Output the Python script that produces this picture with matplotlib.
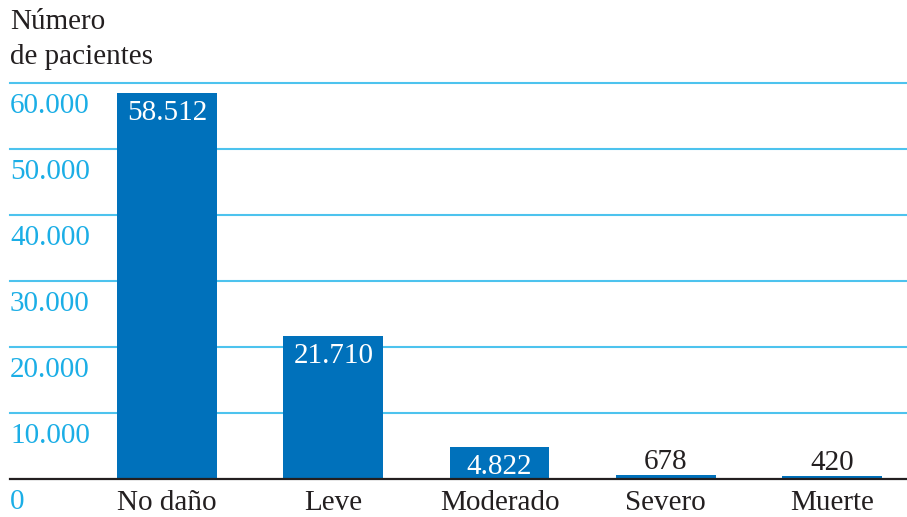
import matplotlib.pyplot as plt
import matplotlib.transforms as mtransforms

categorias = ['No daño', 'Leve', 'Moderado', 'Severo', 'Muerte']
pacientes = [58512, 21710, 4822, 678, 420]
etiquetas = ['58.512', '21.710', '4.822', '678', '420']
y_ticks = [0, 10000, 20000, 30000, 40000, 50000, 60000]
y_labels = ['0', '10.000', '20.000', '30.000', '40.000', '50.000', '60.000']

azul = '#0071BB'
celeste = '#4DC3EE'
texto_eje = '#1BAEE6'

plt.rcParams['font.family'] = ['Liberation Serif', 'DejaVu Serif']

fig = plt.figure(figsize=(9.07, 5.17), dpi=100)
ax = fig.add_axes([10 / 907, 38 / 517, 897 / 907, 396 / 517])

x = list(range(len(categorias)))
ax.set_xlim(-0.944, 4.45)
ax.set_ylim(0, 60000)

# grid lines
for t in y_ticks[1:]:
    ax.axhline(t, color=celeste, lw=1.5, zorder=1, clip_on=False)
ax.axhline(0, color='#231F20', lw=1.6, zorder=4, clip_on=False)

ax.bar(x, pacientes, width=0.6, color=azul, zorder=3)

# y labels below each gridline
for t, lab in zip(y_ticks, y_labels):
    off = mtransforms.offset_copy(ax.transData, fig=fig, x=0, y=-10, units='dots')
    ax.text(-0.944, t, lab, transform=off, ha='left', va='top',
            color=texto_eje, fontsize=21)

# bar value labels
for xi, v, lab in zip(x, pacientes, etiquetas):
    if v > 3000:
        off = mtransforms.offset_copy(ax.transData, fig=fig, x=0, y=-7, units='dots')
        ax.text(xi, v, lab, transform=off, ha='center', va='top',
                color='white', fontsize=21, zorder=5)
    else:
        off = mtransforms.offset_copy(ax.transData, fig=fig, x=0, y=0, units='dots')
        ax.text(xi, v, lab, transform=off, ha='center', va='bottom',
                color='#231F20', fontsize=21, zorder=5)

# category labels
for xi, c in zip(x, categorias):
    off = mtransforms.offset_copy(ax.transData, fig=fig, x=0, y=-11, units='dots')
    ax.text(xi, 0, c, transform=off, ha='center', va='top',
            color='#231F20', fontsize=21)

fig.text(10 / 907, 1 - 9 / 517, 'Número\nde pacientes', ha='left', va='top',
         color='#231F20', fontsize=21, linespacing=1.45)

ax.axis('off')

fig.savefig('out.png', dpi=100)
